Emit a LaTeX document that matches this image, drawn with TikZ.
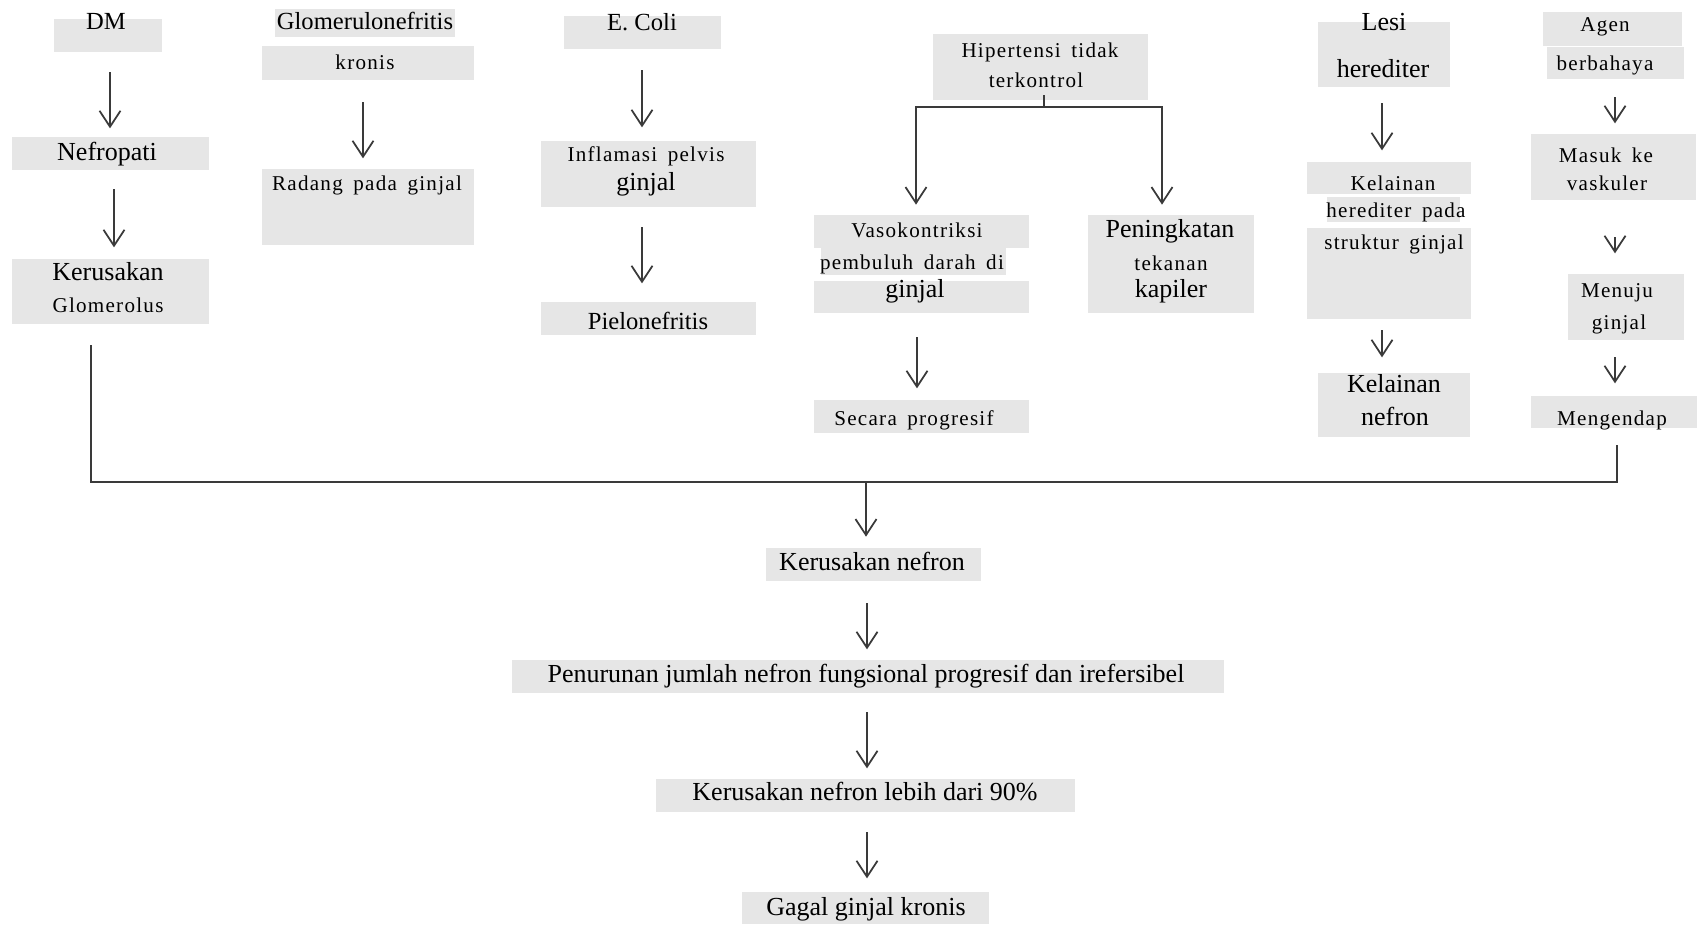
\documentclass[tikz,border=0pt]{standalone}
\usepackage{fontspec}
\setmainfont{Liberation Serif}
\usetikzlibrary{arrows.meta,calc}
\definecolor{boxgray}{HTML}{E6E6E6}
\definecolor{linegray}{HTML}{3A3A3A}

\begin{document}
\begin{tikzpicture}[
   x=0.02cm, y=-0.02cm,
   box/.style 2 args={fill=boxgray,inner sep=0pt,minimum width=#1*0.02cm,
                      minimum height=#2*0.02cm},
   bigtxt/.style={anchor=mid,inner sep=0pt,yshift=-0.066cm,
                  font=\fontsize{14.8}{17}\selectfont},
   midtxt/.style={bigtxt,font=\fontsize{14}{16}\selectfont},
   smltxt/.style={anchor=mid,inner sep=0pt,yshift=-0.066cm,
                  font=\fontsize{12}{14}\selectfont\addfontfeature{LetterSpace=6}},
   link/.style={linegray,line width=1pt},
   arr/.style={link,-{Straight Barb[length=0.32cm,width=0.42cm]}}
]
\useasboundingbox (0,0) rectangle (1697,924);

% =========== DM ============
\node[box={108}{33}] (dm)    at (108,35.5)  {};
\node[box={197}{33}] (nef)   at (110.5,153.5) {};
\node[box={197}{65}] (kglom) at (110.5,291.5) {};
\node[midtxt] (dmT)     at (106,22)  {DM};
\node[bigtxt] (nefT)    at (107,153) {Nefropati};
\node[bigtxt] (kglomT1) at (108,273) {Kerusakan};
\node[smltxt] (kglomT2) at (108,305) {Glomerolus};
\draw[arr] ($(dm.south)+(2,20)$) -- ++(0,56);
\draw[arr] ($(nef.south)+(3.5,19)$) -- ++(0,58);

% =========== Glomerulonefritis ============
\node[box={180}{28}] (glom)   at (365,23)  {};
\node[box={212}{34}] (kron)   at (368,63)  {};
\node[box={212}{76}] (radang) at (368,207) {};
\node[midtxt] (glomT)   at (365,22)  {Glomerulonefritis};
\node[smltxt] (kronT)   at (365,62)  {kronis};
\node[smltxt] (radangT) at (367,183) {Radang\enspace pada\enspace ginjal};
\draw[arr] ($(kron.south)+(-5,22)$) -- ++(0,56);

% =========== E. Coli ============
\node[box={157}{33}] (ecoli) at (642.5,32.5) {};
\node[box={215}{66}] (infl)  at (648.5,174)  {};
\node[box={215}{33}] (piel)  at (648.5,318.5) {};
\node[midtxt] (ecoliT) at (642,23)  {E. Coli};
\node[smltxt] (inflT1) at (646,154) {Inflamasi\enspace pelvis};
\node[bigtxt] (inflT2) at (646,183) {ginjal};
\node[midtxt] (pielT)  at (648,322) {Pielonefritis};
\draw[arr] ($(ecoli.south)+(-0.5,21)$) -- ++(0,57);
\draw[arr] ($(infl.south)+(-6.5,20)$) -- ++(0,56);

% =========== Hipertensi ============
\node[box={215}{66}] (hip)    at (1040.5,67)  {};
\node[box={215}{33}] (vaso1)  at (921.5,231.5) {};
\node[box={185}{27}] (vaso2)  at (913.5,261.5) {};
\node[box={215}{32}] (vaso3)  at (921.5,297)   {};
\node[box={215}{33}] (secara) at (921.5,416.5) {};
\node[box={166}{98}] (pening) at (1171,264)    {};
\node[smltxt] (hipT1)    at (1040,50)  {Hipertensi\enspace tidak};
\node[smltxt] (hipT2)    at (1036,80)  {terkontrol};
\node[smltxt] (vasoT1)   at (917,230)  {Vasokontriksi};
\node[smltxt] (vasoT2)   at (912,262)  {pembuluh\enspace darah\enspace di};
\node[bigtxt] (vasoT3)   at (915,290)  {ginjal};
\node[smltxt] (secaraT)  at (914,418)  {Secara\enspace progresif};
\node[bigtxt] (peningT1) at (1170,230) {Peningkatan};
\node[smltxt] (peningT2) at (1171,263) {tekanan};
\node[bigtxt] (peningT3) at (1171,290) {kapiler};
\coordinate (hipJ) at ($(hip.south)+(3.5,7)$);
\draw[link] ($(hip.south)+(3.5,-5)$) -- (hipJ);
\draw[arr] (hipJ) -| ($(vaso1.north)+(-5.5,-10)$);
\draw[arr] (hipJ) -| ($(pening.north)+(-9,-10)$);
\draw[arr] ($(vaso3.south)+(-4.5,24)$) -- ++(0,51);

% =========== Lesi herediter ============
\node[box={132}{65}] (lesi)  at (1384,54.5)  {};
\node[box={164}{32}] (kel1)  at (1389,178)   {};
\node[box={133}{25}] (kel2)  at (1393.5,209.5) {};
\node[box={164}{91}] (kel3)  at (1389,273.5) {};
\node[box={152}{64}] (kneph) at (1394,405)   {};
\node[bigtxt] (lesiT1)  at (1384,23)  {Lesi};
\node[bigtxt] (lesiT2)  at (1383,70)  {herediter};
\node[smltxt] (kelT1)   at (1393,183) {Kelainan};
\node[smltxt] (kelT2)   at (1396,210) {herediter\enspace pada};
\node[smltxt] (kelT3)   at (1394,242) {struktur\enspace ginjal};
\node[bigtxt] (knephT1) at (1394,385) {Kelainan};
\node[bigtxt] (knephT2) at (1395,418) {nefron};
\draw[arr] ($(lesi.south)+(-2,16)$) -- ++(0,47);
\draw[arr] ($(kel3.south)+(-7,11)$) -- ++(0,27);

% =========== Agen berbahaya ============
\node[box={139}{34}] (agen1)  at (1612.5,29)  {};
\node[box={137}{32}] (agen2)  at (1615.5,63)  {};
\node[box={165}{66}] (masuk)  at (1613.5,167) {};
\node[box={116}{66}] (menuju) at (1626,307)   {};
\node[box={166}{32}] (meng)   at (1614,412)   {};
\node[smltxt] (agenT1)   at (1605,24)  {Agen};
\node[smltxt] (agenT2)   at (1605,63)  {berbahaya};
\node[smltxt] (masukT1)  at (1606,155) {Masuk\enspace ke};
\node[smltxt] (masukT2)  at (1607,183) {vaskuler};
\node[smltxt] (menujuT1) at (1617,290) {Menuju};
\node[smltxt] (menujuT2) at (1619,322) {ginjal};
\node[smltxt] (mengT)    at (1612,418) {Mengendap};
\draw[arr] ($(agen2.south)+(-0.5,18)$) -- ++(0,26);
\draw[arr] ($(masuk.south)+(1.5,37)$) -- ++(0,16);
\draw[arr] ($(menuju.south)+(-11,17)$) -- ++(0,26);

% =========== Common path ============
\node[box={215}{33}] (kn)    at (873.5,564.5) {};
\node[box={712}{33}] (pen)   at (868,676.5)   {};
\node[box={419}{33}] (kn90)  at (865.5,795.5) {};
\node[box={247}{32}] (gagal) at (865.5,908)   {};
\node[bigtxt] (knT)    at (872,563) {Kerusakan nefron};
\node[bigtxt] (penT)   at (866,675) {Penurunan jumlah nefron fungsional progresif dan irefersibel};
\node[bigtxt] (kn90T)  at (865,793) {Kerusakan nefron lebih dari 90\%};
\node[bigtxt] (gagalT) at (866,908) {Gagal ginjal kronis};

% collecting line into Kerusakan nefron
\draw[link] ($(kglom.south)+(-19.5,21)$) -- ++(0,137) -| ($(meng.south)+(3,17)$);
\draw[arr] ($(kn.north)+(-7.5,-66)$) -- ++(0,55);
\draw[arr] ($(kn.south)+(-6.5,22)$) -- ++(0,46);
\draw[arr] ($(pen.south)+(-1,19)$) -- ++(0,56);
\draw[arr] ($(kn90.south)+(1.5,20)$) -- ++(0,46);

\end{tikzpicture}
\end{document}
